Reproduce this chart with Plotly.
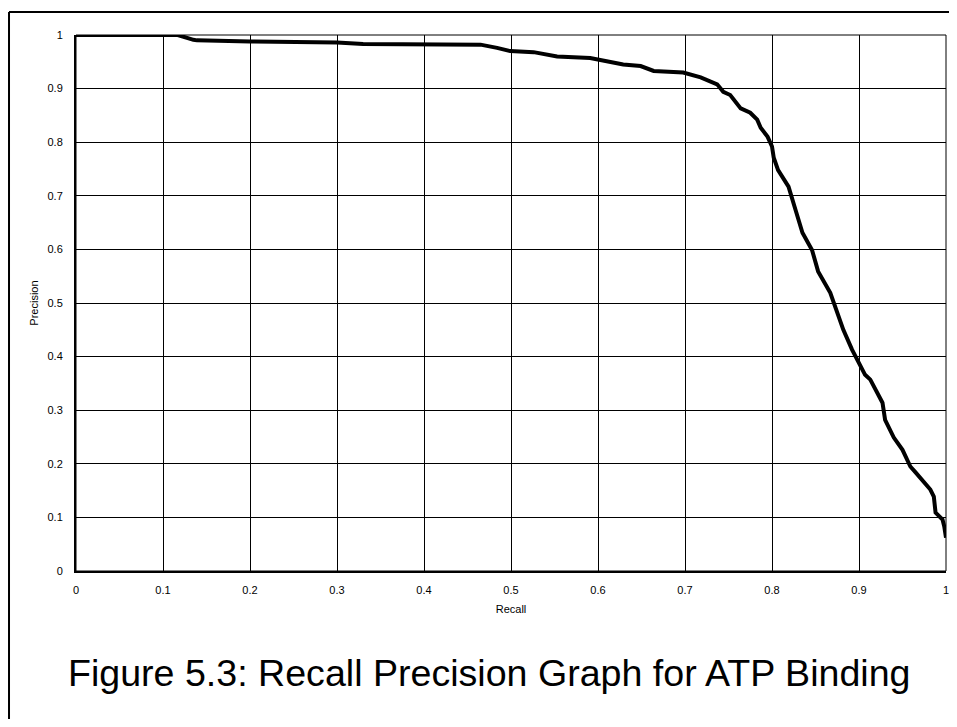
import plotly.graph_objects as go

recall = [0.0, 0.117, 0.135, 0.139, 0.2, 0.258, 0.3, 0.33, 0.373, 0.399, 0.465, 0.484,
          0.499, 0.526, 0.553, 0.591, 0.6, 0.611, 0.629, 0.649, 0.664, 0.698, 0.718,
          0.737, 0.744, 0.752, 0.764, 0.775, 0.783, 0.787, 0.795, 0.8, 0.802, 0.807,
          0.819, 0.827, 0.835, 0.846, 0.853, 0.867, 0.875, 0.882, 0.892, 0.899, 0.907,
          0.913, 0.925, 0.927, 0.93, 0.94, 0.95, 0.959, 0.965, 0.982, 0.986, 0.988,
          0.996, 0.998, 1.0]
precision = [1.0, 1.0, 0.991, 0.99, 0.988, 0.987, 0.986, 0.983, 0.983, 0.983, 0.982, 0.976,
             0.97, 0.968, 0.96, 0.957, 0.954, 0.951, 0.945, 0.942, 0.933, 0.93, 0.921,
             0.908, 0.894, 0.888, 0.863, 0.855, 0.842, 0.827, 0.81, 0.792, 0.771, 0.748,
             0.717, 0.674, 0.631, 0.599, 0.559, 0.519, 0.482, 0.45, 0.413, 0.391, 0.366,
             0.357, 0.323, 0.314, 0.282, 0.249, 0.226, 0.195, 0.184, 0.152, 0.139, 0.109,
             0.096, 0.083, 0.062]

tick_vals = [0, 0.1, 0.2, 0.3, 0.4, 0.5, 0.6, 0.7, 0.8, 0.9, 1]
tick_text = ["0", "0.1", "0.2", "0.3", "0.4", "0.5", "0.6", "0.7", "0.8", "0.9", "1"]

FONT = "Arial, 'Liberation Sans', sans-serif"

fig = go.Figure()
fig.add_trace(go.Scatter(x=recall, y=precision, mode="lines",
                         line=dict(color="black", width=4), showlegend=False,
                         cliponaxis=False))

axis_common = dict(range=[0, 1], tickvals=tick_vals, ticktext=tick_text,
                   showgrid=True, gridcolor="black", gridwidth=1, zeroline=False,
                   showline=True, linecolor="black", linewidth=2, ticks="",
                   tickfont=dict(family=FONT, size=11, color="black"),
                   ticklabeloverflow="allow", automargin=False, fixedrange=True)

fig.update_xaxes(**axis_common, ticklabelstandoff=8,
                 title=dict(text="Recall", font=dict(family=FONT, size=11, color="black"), standoff=10))
fig.update_yaxes(**axis_common, ticklabelstandoff=9,
                 title=dict(text="Precision", font=dict(family=FONT, size=11, color="black"), standoff=7))

# plot frame (top/right)
fig.add_shape(type="rect", xref="paper", yref="paper", x0=0, y0=0, x1=1, y1=1,
              line=dict(color="black", width=1), layer="below")
# outer border (left and top visible)
fig.add_shape(type="line", xref="paper", yref="paper", x0=-0.077, y0=-0.4, x1=-0.077, y1=1.043,
              line=dict(color="black", width=2))
fig.add_shape(type="line", xref="paper", yref="paper", x0=-0.077, y0=1.043, x1=1.1, y1=1.043,
              line=dict(color="black", width=2))

fig.add_annotation(text="Figure 5.3: Recall Precision Graph for ATP Binding",
                   xref="paper", yref="paper", x=0.4747, y=-0.19, showarrow=False,
                   xanchor="center", yanchor="middle",
                   font=dict(family=FONT, size=37.6, color="black"))

# page body has an 8px margin, so the figure is sized/offset to compensate
fig.update_layout(width=941, height=711, margin=dict(l=68, r=3, t=27, b=148),
                  paper_bgcolor="white", plot_bgcolor="white")

fig.write_html("out.html")
